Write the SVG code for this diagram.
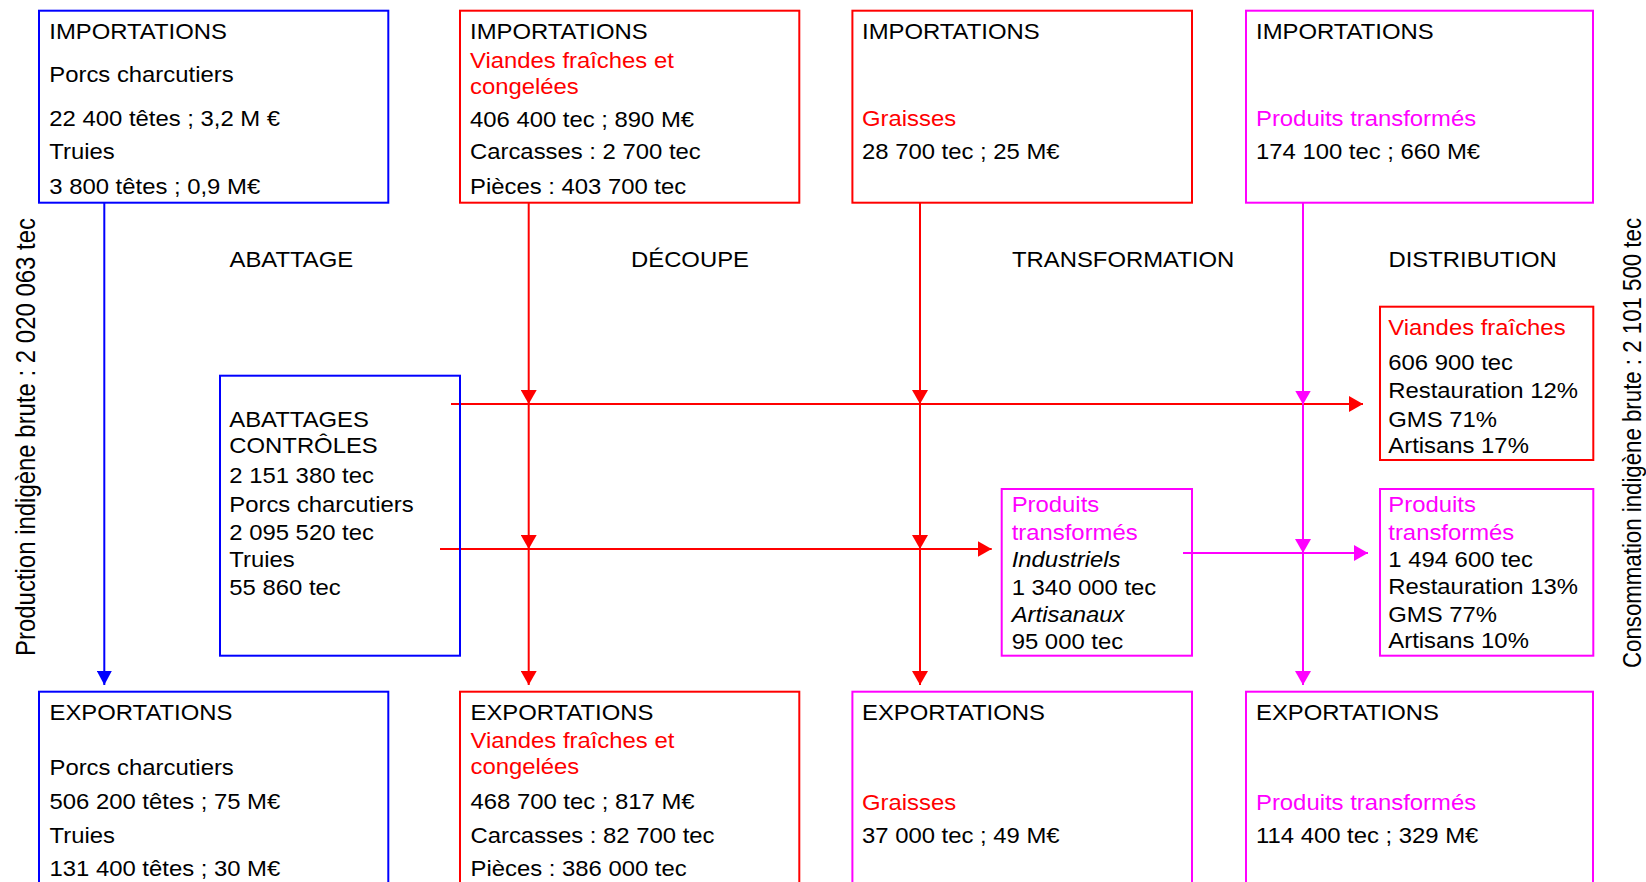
<svg xmlns="http://www.w3.org/2000/svg" width="1646" height="882" viewBox="0 0 1646 882">
<defs>
<style>
.t{font-family:"Liberation Sans",Arial,sans-serif;font-size:21.5px;fill:#000}
.r{fill:#ff0000}
.m{fill:#ff00ff}
.i{font-style:italic}
.vb{fill:none;stroke:#0000ff;stroke-width:2}
.vr{fill:none;stroke:#ff0000;stroke-width:2}
.vm{fill:none;stroke:#ff00ff;stroke-width:2}
.box{fill:#fff;stroke-width:2}
</style>
<marker id="ab" markerUnits="userSpaceOnUse" markerWidth="14" markerHeight="15" refX="14" refY="7.5" orient="auto"><path d="M0,0 L14,7.5 L0,15 z" fill="#0000ff"/></marker>
<marker id="ar" markerUnits="userSpaceOnUse" markerWidth="14" markerHeight="16" refX="14" refY="8" orient="auto"><path d="M0,0 L14,8 L0,16 z" fill="#ff0000"/></marker>
<marker id="am" markerUnits="userSpaceOnUse" markerWidth="14" markerHeight="16" refX="14" refY="8" orient="auto"><path d="M0,0 L14,8 L0,16 z" fill="#ff00ff"/></marker>
</defs>
<rect width="1646" height="882" fill="#fff"/>

<g id="side-labels">
<text class="t" style="font-size:24px" transform="translate(34.5 656) scale(1.12 1) rotate(-90)" textLength="438" lengthAdjust="spacingAndGlyphs">Production indigène brute : 2 020 063 tec</text>
<text class="t" style="font-size:23px" transform="translate(1640.5 668) scale(1.1 1) rotate(-90)" textLength="450" lengthAdjust="spacingAndGlyphs">Consommation indigène brute : 2 101 500 tec</text>
</g>

<g id="stage-labels">
<text class="t" transform="translate(229.5 266.7) scale(1.11 1)">ABATTAGE</text>
<text class="t" transform="translate(631 266.7) scale(1.11 1)">DÉCOUPE</text>
<text class="t" transform="translate(1012 266.7) scale(1.11 1)">TRANSFORMATION</text>
<text class="t" transform="translate(1388.5 266.7) scale(1.11 1)">DISTRIBUTION</text>
</g>

<g id="connectors">
<path class="vb" d="M104.3,202.7 V685" marker-end="url(#ab)"/>
<path class="vr" d="M528.7,202.7 V404" marker-end="url(#ar)"/>
<path class="vr" d="M528.7,404 V549" marker-end="url(#ar)"/>
<path class="vr" d="M528.7,549 V685" marker-end="url(#ar)"/>
<path class="vr" d="M920,202.7 V404" marker-end="url(#ar)"/>
<path class="vr" d="M920,404 V549" marker-end="url(#ar)"/>
<path class="vr" d="M920,549 V685" marker-end="url(#ar)"/>
<path class="vr" d="M451,404 H1363" marker-end="url(#ar)"/>
<path class="vr" d="M440,549 H991.7" marker-end="url(#ar)"/>
<path class="vm" d="M1183,553 H1368" marker-end="url(#am)"/>
<path class="vm" d="M1303,202.7 V404.5" marker-end="url(#am)"/>
<path class="vm" d="M1303,404.5 V553" marker-end="url(#am)"/>
<path class="vm" d="M1303,553 V685" marker-end="url(#am)"/>
</g>

<g id="imp-porcs">
<rect class="box" x="39" y="10.7" width="349.3" height="192" stroke="#0000ff"/>
<text class="t" transform="translate(49.3 0) scale(1.11 1)"><tspan x="0" y="39.3">IMPORTATIONS</tspan><tspan x="0" y="81.7">Porcs charcutiers</tspan><tspan x="0" y="126">22 400 têtes ; 3,2 M €</tspan><tspan x="0" y="159.3">Truies</tspan><tspan x="0" y="194">3 800 têtes ; 0,9 M€</tspan></text>
</g>

<g id="imp-viandes">
<rect class="box" x="460" y="10.7" width="339.3" height="192" stroke="#ff0000"/>
<text class="t" transform="translate(470 0) scale(1.11 1)"><tspan x="0" y="39.3">IMPORTATIONS</tspan><tspan class="r" x="0" y="68.3">Viandes fraîches et</tspan><tspan class="r" x="0" y="94.3">congelées</tspan><tspan x="0" y="126.7">406 400 tec ; 890 M€</tspan><tspan x="0" y="159.3">Carcasses : 2 700 tec</tspan><tspan x="0" y="194">Pièces : 403 700 tec</tspan></text>
</g>

<g id="imp-graisses">
<rect class="box" x="852.4" y="10.7" width="339.6" height="192" stroke="#ff0000"/>
<text class="t" transform="translate(862 0) scale(1.11 1)"><tspan x="0" y="39.3">IMPORTATIONS</tspan><tspan class="r" x="0" y="126">Graisses</tspan><tspan x="0" y="159.3">28 700 tec ; 25 M€</tspan></text>
</g>

<g id="imp-produits">
<rect class="box" x="1246" y="10.7" width="347" height="192" stroke="#ff00ff"/>
<text class="t" transform="translate(1256 0) scale(1.11 1)"><tspan x="0" y="39.3">IMPORTATIONS</tspan><tspan class="m" x="0" y="126">Produits transformés</tspan><tspan x="0" y="159.3">174 100 tec ; 660 M€</tspan></text>
</g>

<g id="abattages">
<rect class="box" x="220" y="375.7" width="240" height="280" stroke="#0000ff" style="fill:none"/>
<text class="t" transform="translate(229.3 0) scale(1.11 1)"><tspan x="0" y="426.7">ABATTAGES</tspan><tspan x="0" y="453.3">CONTRÔLES</tspan><tspan x="0" y="482.7">2 151 380 tec</tspan><tspan x="0" y="511.7">Porcs charcutiers</tspan><tspan x="0" y="540">2 095 520 tec</tspan><tspan x="0" y="567.3">Truies</tspan><tspan x="0" y="595">55 860 tec</tspan></text>
</g>

<g id="transformes">
<rect class="box" x="1001.7" y="489" width="190.3" height="166.7" stroke="#ff00ff" style="fill:none"/>
<text class="t" transform="translate(1011.7 0) scale(1.11 1)"><tspan class="m" x="0" y="511.7">Produits</tspan><tspan class="m" x="0" y="540">transformés</tspan><tspan class="i" x="0" y="566.7">Industriels</tspan><tspan x="0" y="595">1 340 000 tec</tspan><tspan class="i" x="0" y="621.7">Artisanaux</tspan><tspan x="0" y="649.3">95 000 tec</tspan></text>
</g>

<g id="dist-viandes">
<rect class="box" x="1380" y="306.7" width="213.3" height="153.3" stroke="#ff0000"/>
<text class="t" transform="translate(1388.3 0) scale(1.11 1)"><tspan class="r" x="0" y="335">Viandes fraîches</tspan><tspan x="0" y="370">606 900 tec</tspan><tspan x="0" y="398.3">Restauration 12%</tspan><tspan x="0" y="426.7">GMS 71%</tspan><tspan x="0" y="453.3">Artisans 17%</tspan></text>
</g>

<g id="dist-produits">
<rect class="box" x="1380" y="489" width="213.3" height="166.7" stroke="#ff00ff"/>
<text class="t" transform="translate(1388.3 0) scale(1.11 1)"><tspan class="m" x="0" y="511.7">Produits</tspan><tspan class="m" x="0" y="540">transformés</tspan><tspan x="0" y="567.3">1 494 600 tec</tspan><tspan x="0" y="594">Restauration 13%</tspan><tspan x="0" y="622.3">GMS 77%</tspan><tspan x="0" y="648.3">Artisans 10%</tspan></text>
</g>

<g id="exp-porcs">
<rect class="box" x="39" y="691.7" width="349.3" height="250" stroke="#0000ff"/>
<text class="t" transform="translate(49.5 0) scale(1.11 1)"><tspan x="0" y="720">EXPORTATIONS</tspan><tspan x="0" y="775">Porcs charcutiers</tspan><tspan x="0" y="809">506 200 têtes ; 75 M€</tspan><tspan x="0" y="842.7">Truies</tspan><tspan x="0" y="876">131 400 têtes ; 30 M€</tspan></text>
</g>

<g id="exp-viandes">
<rect class="box" x="460" y="691.7" width="339.3" height="250" stroke="#ff0000"/>
<text class="t" transform="translate(470.5 0) scale(1.11 1)"><tspan x="0" y="720">EXPORTATIONS</tspan><tspan class="r" x="0" y="748.3">Viandes fraîches et</tspan><tspan class="r" x="0" y="774.3">congelées</tspan><tspan x="0" y="809">468 700 tec ; 817 M€</tspan><tspan x="0" y="842.7">Carcasses : 82 700 tec</tspan><tspan x="0" y="876">Pièces : 386 000 tec</tspan></text>
</g>

<g id="exp-graisses">
<rect class="box" x="852.4" y="691.7" width="339.6" height="250" stroke="#ff00ff"/>
<text class="t" transform="translate(862 0) scale(1.11 1)"><tspan x="0" y="720">EXPORTATIONS</tspan><tspan class="r" x="0" y="810">Graisses</tspan><tspan x="0" y="843.3">37 000 tec ; 49 M€</tspan></text>
</g>

<g id="exp-produits">
<rect class="box" x="1246" y="691.7" width="347" height="250" stroke="#ff00ff"/>
<text class="t" transform="translate(1256 0) scale(1.11 1)"><tspan x="0" y="720">EXPORTATIONS</tspan><tspan class="m" x="0" y="810">Produits transformés</tspan><tspan x="0" y="843.3">114 400 tec ; 329 M€</tspan></text>
</g>
</svg>
